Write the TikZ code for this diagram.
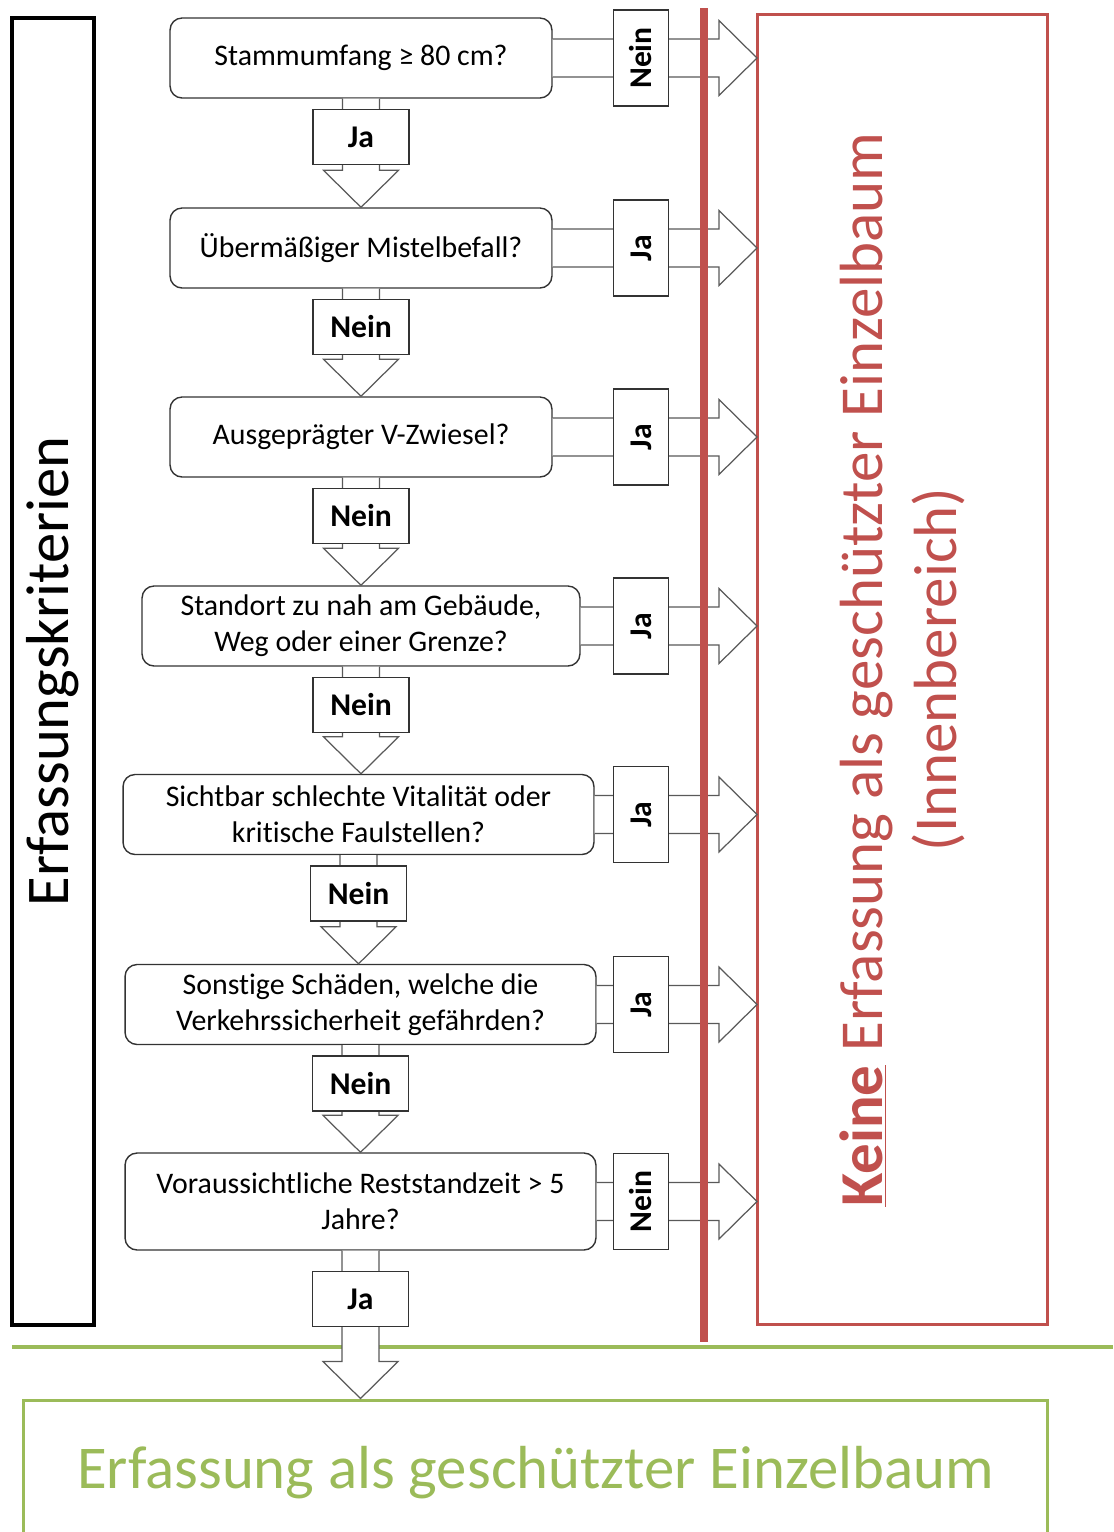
\documentclass[tikz,border=0pt]{standalone}
\usepackage{fontspec}
\setmainfont{Carlito}[Ligatures=NoCommon]
\usetikzlibrary{calc, positioning}
\definecolor{keinrot}{HTML}{C0504D}
\definecolor{jagruen}{HTML}{9BBB59}

% block arrow downwards, from node #1 to the top of node #2
\newcommand{\arrdown}[2]{%
  \filldraw[blockarrow] ($(#1.south)+(-18.5,0)$) -- ($(#1.south |- #2.north)+(-18.5,-37)$)
    -- ($(#1.south |- #2.north)+(-37.5,-37)$) -- (#1.south |- #2.north)
    -- ($(#1.south |- #2.north)+(37.5,-37)$) -- ($(#1.south |- #2.north)+(18.5,-37)$)
    -- ($(#1.south)+(18.5,0)$);
}
% block arrow to the right, from node #1 to the red frame
\newcommand{\arrright}[1]{%
  \filldraw[blockarrow] ($(#1.east)+(0,-19)$) -- ($(#1.east -| stop)+(-38,-19)$)
    -- ($(#1.east -| stop)+(-38,-37.5)$) -- (#1.east -| stop)
    -- ($(#1.east -| stop)+(-38,37.5)$) -- ($(#1.east -| stop)+(-38,19)$)
    -- ($(#1.east)+(0,19)$);
}

\begin{document}
\begin{tikzpicture}[x=0.02cm, y=-0.02cm, every node/.style={inner sep=0pt},
    question/.style={draw=black!80, line width=0.8pt, fill=white, rounded corners=0.24cm,
        align=center, minimum height=1.6cm, font=\fontsize{17}{20.4}\selectfont},
    answer/.style={draw=black!80, line width=0.8pt, fill=white, minimum width=1.92cm,
        minimum height=1.1cm, font=\fontsize{18}{21}\selectfont\bfseries},
    sideanswer/.style={answer, rotate=90},
    blockarrow/.style={draw=black!65, fill=white, line width=0.7pt}]
    \clip (0,0) rectangle (1113,1532);

    \coordinate (stop) at (757,0);
    \coordinate (rx) at (641,0);

    % left frame
    \node[draw, line width=2.2pt, rotate=90, minimum width=26.14cm, minimum height=1.64cm,
        font=\fontsize{34.5}{40}\selectfont] (crit) at (53,671.5) {Erfassungskriterien};

    % questions
    \node[question, minimum width=7.64cm] (q1) at (361,58) {Stammumfang ≥ 80 cm?};
    \node[question, minimum width=7.64cm] (q2) at (361,248) {Übermäßiger Mistelbefall?};
    \node[question, minimum width=7.64cm] (q3) at (361,437) {Ausgeprägter V-Zwiesel?};
    \node[question, minimum width=8.76cm] (q4) at (361,626) {Standort zu nah am Gebäude,\\Weg oder einer Grenze?};
    \node[question, minimum width=9.42cm] (q5) at (358.5,814.5) {Sichtbar schlechte Vitalität oder\\kritische Faulstellen?};
    \node[question, minimum width=9.42cm] (q6) at (360.5,1004.5) {Sonstige Schäden, welche die\\Verkehrssicherheit gefährden?};
    \node[question, minimum width=9.42cm, minimum height=1.94cm] (q7) at (360.5,1201.5) {Voraussichtliche Reststandzeit > 5\\Jahre?};

    % outcomes
    \node[draw=keinrot, line width=1.7pt, rotate=90, minimum width=26.22cm, minimum height=5.82cm,
        align=center, text=keinrot, font=\fontsize{34.7}{42}\selectfont] (no) at (902.5,669.5)
        {\underline{\textbf{Keine}} Erfassung als geschützter Einzelbaum\\(Innenbereich)};
    \node[draw=jagruen, line width=1.7pt, minimum width=20.5cm, minimum height=2.92cm,
        text=jagruen, font=\fontsize{34.6}{40}\selectfont] (yes) at (535.5,1473)
        {Erfassung als geschützter Einzelbaum};

    % exits to the right
    \foreach \i/\lbl in {1/Nein, 2/Ja, 3/Ja, 4/Ja, 5/Ja, 6/Ja, 7/Nein} {
        \arrright{q\i}
        \node[sideanswer] (r\i) at (q\i.east -| rx) {\lbl};
    }
    \coordinate (rtop) at (704,8);
    \coordinate (rbot) at (704,1342);
    \draw[keinrot, line width=4pt] (rtop) -- (rbot);

    % path downwards
    \foreach \i/\j in {1/2, 2/3, 3/4, 4/5, 5/6, 6/7} {
        \arrdown{q\i}{q\j}
    }
    \coordinate (gl) at (12,1347);
    \coordinate (gr) at (1113,1347);
    \draw[jagruen, line width=2.6pt] (gl) -- (gr);
    \arrdown{q7}{yes}

    \node[answer, below=0.2cm of q1] (d1) {Ja};
    \node[answer, below=0.2cm of q2] (d2) {Nein};
    \node[answer, below=0.2cm of q3] (d3) {Nein};
    \node[answer, below=0.2cm of q4] (d4) {Nein};
    \node[answer, below=0.2cm of q5] (d5) {Nein};
    \node[answer, below=0.2cm of q6] (d6) {Nein};
    \node[answer, below=0.4cm of q7] (d7) {Ja};
\end{tikzpicture}
\end{document}
